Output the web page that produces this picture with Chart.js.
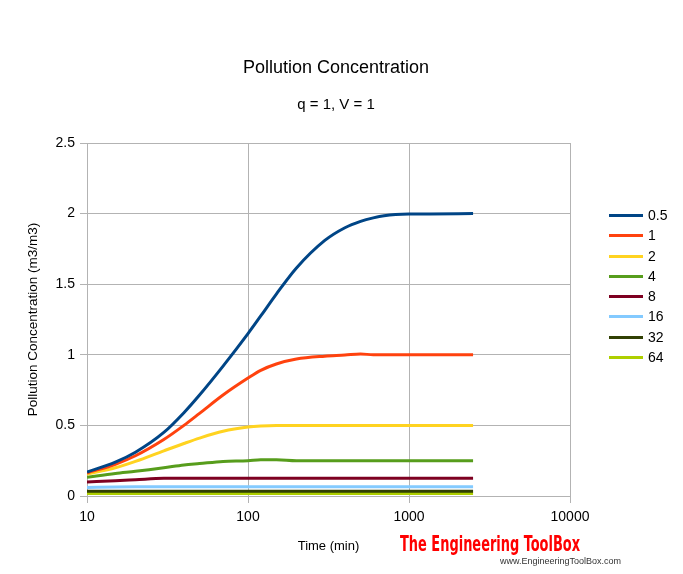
<!DOCTYPE html>
<html>
<head>
<meta charset="utf-8">
<script src="https://cdn.jsdelivr.net/npm/chart.js@4.4.0/dist/chart.umd.min.js"></script>
<style>
  body { margin: 0; background: #fff; font-family: "Liberation Sans", Arial, sans-serif; }
  #wrap { position: relative; width: 683px; height: 574px; }
  .txt { position: absolute; color: #000; white-space: nowrap; }
  #title { left: 0; width: 672px; top: 57px; text-align: center; font-size: 18px; }
  #subtitle { left: 0; width: 672px; top: 95px; text-align: center; font-size: 15px; }
  #legend { position: absolute; left: 609px; top: 206px; }
  .item { position: relative; height: 20.3px; }
  .item .ln { position: absolute; left: 0; top: 8px; width: 34px; height: 3px; }
  .item span { position: absolute; left: 39px; top: 1px; font-size: 14px; }
  #brand { position: absolute; left: 400px; top: 531px; color: #ff0000; font-weight: bold;
           font-family: "DejaVu Sans Condensed", "Liberation Sans Narrow", sans-serif; font-size: 22px;
           transform-origin: left top; white-space: nowrap; }
  #url { position: absolute; left: 500px; top: 556px; font-size: 9px; color: #333; }
</style>
</head>
<body>
<div id="wrap">
  <canvas id="chart" width="683" height="574"></canvas>
  <div id="title" class="txt">Pollution Concentration</div>
  <div id="subtitle" class="txt">q = 1, V = 1</div>
  <div id="legend"></div>
  <div id="brand">The Engineering ToolBox</div>
  <div id="url" class="txt">www.EngineeringToolBox.com</div>
</div>
<script>
// time (min), shared by all series
const times = [10, 15, 20, 30, 40, 50, 70, 100, 120, 150, 200, 300, 400, 500, 600, 700, 1000, 2500];

const labels = ['0.5', '1', '2', '4', '8', '16', '32', '64'];
const colors = ['#004586', '#ff420e', '#ffd320', '#579d1c', '#7e0021', '#83caff', '#314004', '#aecf00'];

const c05 = [0.17, 0.24, 0.31, 0.45, 0.59, 0.715, 0.92, 1.15, 1.275, 1.43, 1.615, 1.81, 1.9, 1.945, 1.97, 1.985, 1.997, 2.0];
const c1  = [0.163, 0.225, 0.285, 0.4, 0.5, 0.585, 0.715, 0.835, 0.89, 0.935, 0.97, 0.99, 0.998, 1.006, 1.0, 1.0, 1.0, 1.0];
const c2  = [0.156, 0.2, 0.245, 0.32, 0.372, 0.41, 0.458, 0.488, 0.496, 0.5, 0.5, 0.5, 0.5, 0.5, 0.5, 0.5, 0.5, 0.5];
const c4  = [0.132, 0.16, 0.175, 0.2, 0.22, 0.23, 0.245, 0.25, 0.257, 0.257, 0.25, 0.25, 0.25, 0.25, 0.25, 0.25, 0.25, 0.25];
const c8  = [0.1, 0.108, 0.115, 0.125, 0.125, 0.125, 0.125, 0.125, 0.125, 0.125, 0.125, 0.125, 0.125, 0.125, 0.125, 0.125, 0.125, 0.125];
const c16 = [0.06, 0.064, 0.065, 0.065, 0.065, 0.065, 0.065, 0.065, 0.065, 0.065, 0.065, 0.065, 0.065, 0.065, 0.065, 0.065, 0.065, 0.065];
const c32 = [0.034, 0.034, 0.034, 0.034, 0.034, 0.034, 0.034, 0.034, 0.034, 0.034, 0.034, 0.034, 0.034, 0.034, 0.034, 0.034, 0.034, 0.034];
const c64 = [0.018, 0.018, 0.018, 0.018, 0.018, 0.018, 0.018, 0.018, 0.018, 0.018, 0.018, 0.018, 0.018, 0.018, 0.018, 0.018, 0.018, 0.018];

const xTicks = [10, 100, 1000, 10000];
const yTicks = [0, 0.5, 1, 1.5, 2, 2.5];

const series = [c05, c1, c2, c4, c8, c16, c32, c64];
const gridColor = '#b3b3b3';

const datasets = series.map(function (vals, i) {
    return {
        label: labels[i],
        data: vals.map(function (v, j) { return { x: times[j], y: v }; }),
        borderColor: colors[i],
        backgroundColor: colors[i],
        borderWidth: 3,
        pointRadius: 0,
        cubicInterpolationMode: 'monotone',
        order: i
    };
});

new Chart(document.getElementById('chart'), {
    type: 'line',
    data: { datasets: datasets },
    options: {
        responsive: false,
        animation: false,
        layout: { padding: { top: 143, right: 113, bottom: 0, left: 0 } },
        plugins: { legend: { display: false }, tooltip: { enabled: false } },
        scales: {
            x: {
                type: 'logarithmic',
                min: 10,
                max: 10000,
                afterBuildTicks: function (scale) {
                    scale.ticks = xTicks.map(function (v) { return { value: v }; });
                },
                afterFit: function (scale) { scale.height = 78; },
                grid: { color: gridColor, tickLength: 7 },
                border: { color: gridColor },
                ticks: {
                    color: '#000', font: { size: 14 }, padding: 6, maxRotation: 0,
                    callback: function (v) { return String(v); }
                },
                title: { display: true, text: 'Time (min)', color: '#000', font: { size: 13 }, padding: { top: 0, bottom: 20 } }
            },
            y: {
                min: 0,
                max: 2.5,
                afterBuildTicks: function (scale) {
                    scale.ticks = yTicks.map(function (v) { return { value: v }; });
                },
                afterFit: function (scale) { scale.width = 87; },
                grid: { color: gridColor, tickLength: 7 },
                border: { color: gridColor },
                ticks: {
                    color: '#000', font: { size: 14 }, padding: 5,
                    callback: function (v) { return String(v); }
                },
                title: { display: true, text: 'Pollution Concentration (m3/m3)', color: '#000', font: { size: 13.5 }, padding: { top: 25, bottom: 0 } }
            }
        }
    }
});

// legend
const legend = document.getElementById('legend');
labels.forEach(function (lab, i) {
    const it = document.createElement('div');
    it.className = 'item';
    it.innerHTML = '<div class="ln" style="background:' + colors[i] + '"></div><span>' + lab + '</span>';
    legend.appendChild(it);
});

// squeeze the brand text into its width
const brand = document.getElementById('brand');
brand.style.transform = 'scaleX(' + (180 / brand.offsetWidth) + ')';
</script>
</body>
</html>
